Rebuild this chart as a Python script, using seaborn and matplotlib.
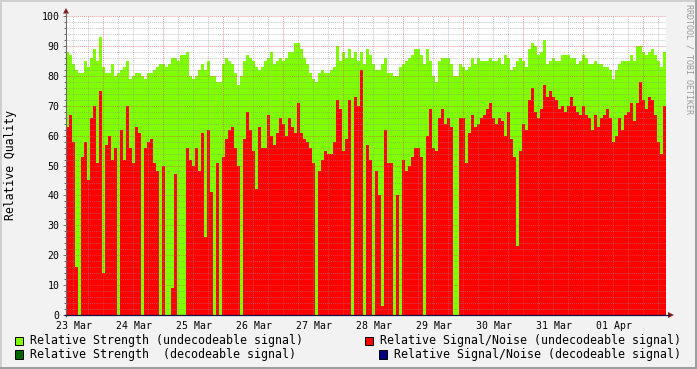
import numpy as np
import pandas as pd
import matplotlib
matplotlib.use("Agg")
import matplotlib.pyplot as plt
import seaborn as sns
from matplotlib.patches import Rectangle, Polygon

# ---------------- data ----------------
day_labels = ["23 Mar", "24 Mar", "25 Mar", "26 Mar", "27 Mar",
              "28 Mar", "29 Mar", "30 Mar", "31 Mar", "01 Apr"]
y_ticks = [0, 10, 20, 30, 40, 50, 60, 70, 80, 90, 100]

# Relative Strength (undecodeable signal), one value per 3-pixel column
strength_undecodeable = [
    88, 87, 84, 82, 81, 81, 85, 83, 86, 89, 85, 93, 83, 81, 81, 84, 80, 81, 82, 83,
    85, 79, 80, 81, 81, 80, 79, 81, 81, 82, 83, 84, 84, 83, 84,
    86, 86, 85, 87, 87, 88, 80, 79, 80, 82, 84, 82, 85, 80, 80, 78, 78, 84, 86, 85,
    84, 81, 77, 80, 85, 87, 86, 85, 83, 82, 83, 85, 86,
    88, 84, 85, 86, 85, 86, 88, 88, 91, 91, 89, 86, 84, 81, 79, 78, 81, 82, 81, 81,
    82, 83, 90, 85, 88, 86, 89, 86, 88, 85, 88, 84, 89,
    87, 84, 82, 82, 84, 86, 81, 81, 80, 80, 83, 84, 85, 86, 87, 89, 89, 87, 84, 89,
    85, 80, 78, 85, 86, 86, 86, 84, 80, 80, 84, 83, 82,
    83, 86, 84, 86, 85, 85, 85, 86, 85, 85, 86, 84, 87, 86, 82, 83, 85, 86, 85, 83,
    89, 91, 90, 87, 88, 92, 84, 85, 86, 85, 85, 87, 87, 87,
    86, 86, 84, 85, 87, 86, 84, 84, 85, 84, 84, 83, 83, 82, 79, 82, 84, 85, 85, 85,
    87, 85, 90, 90, 88, 87, 88, 89, 87, 85, 83, 88,
]
# Relative Signal/Noise (undecodeable signal)
snr_undecodeable = [
    63, 67, 58, 16, 0, 53, 58, 45, 66, 70, 51, 75, 14, 57, 60, 52, 56, 0, 62, 52,
    70, 56, 51, 63, 61, 0, 56, 58, 59, 51, 48, 0, 50, 0, 0,
    9, 47, 0, 0, 0, 56, 52, 50, 56, 48, 61, 26, 62, 41, 0, 51, 0, 53, 59, 62,
    63, 56, 50, 0, 59, 68, 62, 55, 42, 63, 56, 56, 67,
    60, 57, 61, 66, 64, 60, 66, 63, 61, 71, 61, 59, 58, 56, 51, 0, 48, 52, 55, 54,
    54, 58, 72, 69, 55, 59, 72, 0, 73, 70, 82, 0, 57,
    52, 0, 48, 40, 3, 62, 51, 51, 0, 40, 0, 52, 48, 50, 53, 56, 56, 53, 0, 60,
    69, 56, 55, 66, 69, 64, 66, 63, 0, 0, 66, 66, 51,
    61, 67, 63, 64, 66, 67, 69, 71, 66, 64, 66, 65, 60, 68, 59, 53, 23, 55, 64, 62,
    72, 76, 68, 66, 69, 77, 73, 75, 73, 72, 69, 70, 68, 70,
    73, 70, 68, 67, 70, 67, 66, 62, 67, 63, 66, 67, 69, 66, 58, 60, 66, 62, 67, 68,
    71, 65, 71, 78, 72, 69, 73, 72, 67, 58, 54, 70,
]

legend_labels = ["Relative Strength (undecodeable signal)",
                 "Relative Signal/Noise (undecodeable signal)",
                 "Relative Strength  (decodeable signal)",
                 "Relative Signal/Noise (decodeable signal)"]
legend_colors = ["#7FFF00", "#FF0000", "#006400", "#000080"]

# ---------------- styling ----------------
W, H = 697, 369
sns.set_theme(style="white")
plt.rcParams["font.family"] = ["DejaVu Sans Mono"]

BACK = (0.95, 0.95, 0.95)
GRID = (0.56, 0.56, 0.56)
MGRID = (0.87, 0.31, 0.31)
ARROW = (0.50, 0.12, 0.12)
YAXIS = (0.42, 0.42, 0.42)

fig = plt.figure(figsize=(W / 100, H / 100), dpi=100, facecolor=BACK)
L, T, R, B = 66, 16, 666, 315
ax = fig.add_axes([L / W, 1 - B / H, (R - L) / W, (B - T) / H])
ax.set_facecolor("white")

n = len(strength_undecodeable)
df = pd.DataFrame({"t": np.arange(n),
                   "strength": strength_undecodeable,
                   "snr": snr_undecodeable})

sns.histplot(data=df, x="t", weights="strength", binwidth=1, binrange=(0, n),
             element="step", fill=True, color="#7FFF00", alpha=1, linewidth=0,
             ax=ax, zorder=1)
sns.histplot(data=df, x="t", weights="snr", binwidth=1, binrange=(0, n),
             element="step", fill=True, color="#FF0000", alpha=1, linewidth=0,
             ax=ax, zorder=2)

ax.set_xlim(0, n)
ax.set_ylim(0, 100)
ax.set_xlabel("")
ax.set_ylabel("")
for s in ax.spines.values():
    s.set_visible(False)

# grid (drawn above the data like rrdtool)
for v in range(2, 101, 2):
    if v % 10:
        ax.axhline(v, color=GRID, alpha=0.5, lw=0.7, ls=(0, (1, 1)), zorder=3)
    else:
        ax.axhline(v, color=MGRID, alpha=0.6, lw=0.7, ls=(0, (1, 1)), zorder=4)
k = 0
while 2.45 + 5 * k < n:
    xv = 2.45 + 5 * k
    if (k - 2) % 4 == 0:
        ax.axvline(xv, color=MGRID, alpha=0.6, lw=0.7, ls=(0, (1, 1)), zorder=4)
    else:
        ax.axvline(xv, color=GRID, alpha=0.5, lw=0.7, ls=(0, (1, 1)), zorder=3)
    k += 1

# ticks
ax.set_xticks([2.8 + 20 * i for i in range(len(day_labels))])
ax.set_xticklabels(day_labels)
ax.set_yticks(y_ticks)
ax.set_yticklabels([str(v) for v in y_ticks])
ax.set_yticks(list(range(0, 101, 2)), minor=True)
ax.tick_params(axis="x", length=0, pad=4, labelsize=7.1, colors="black")
ax.tick_params(axis="y", which="major", length=2.2, width=0.7, pad=2.6,
               labelsize=7.1, color=YAXIS, labelcolor="black", left=True)
ax.tick_params(axis="y", which="minor", length=1.2, width=0.7, color=YAXIS, left=True)

# ---------------- overlay in pixel coordinates ----------------
ox = fig.add_axes([0, 0, 1, 1], zorder=10)
ox.set_xlim(0, W)
ox.set_ylim(H, 0)
ox.axis("off")
ox.patch.set_alpha(0)

# frame
ox.add_patch(Rectangle((0, 0), W, 2, color=(0.81, 0.81, 0.81), lw=0))
ox.add_patch(Rectangle((0, 0), 2, H, color=(0.81, 0.81, 0.81), lw=0))
ox.add_patch(Rectangle((W - 2, 0), 2, H, color=(0.62, 0.62, 0.62), lw=0))
ox.add_patch(Rectangle((0, H - 2), W, 2, color=(0.62, 0.62, 0.62), lw=0))

# axes lines and arrows
ox.plot([66, 66], [317, 12], color=YAXIS, lw=0.8, solid_capstyle="butt")
ox.plot([64, 669], [315, 315], color="#10104A", lw=0.9, solid_capstyle="butt")
ox.add_patch(Polygon([(63, 13.5), (69, 13.5), (66, 8)], closed=True, color=ARROW, lw=0))
ox.add_patch(Polygon([(668, 312), (668, 318), (674, 315)], closed=True, color=ARROW, lw=0))

# y axis title
ox.text(11, 165, "Relative Quality", rotation=90, ha="center", va="center",
        fontsize=8.3, color="black")

# watermark
ox.text(688.5, 59, "RRDTOOL / TOBI OETIKER", rotation=-90, ha="center", va="center",
        fontsize=6, color=(0.6, 0.6, 0.6))

# legend
rows = [340.8, 354.3]
sq = 8.5
for lab, col, yc in [(legend_labels[0], legend_colors[0], rows[0]),
                     (legend_labels[2], legend_colors[2], rows[1])]:
    ox.add_patch(Rectangle((15, yc - sq / 2), 7.8, sq, facecolor=col,
                           edgecolor="black", lw=0.7))
    ox.text(30.5, yc, lab, ha="left", va="center", fontsize=8.35, color="black")
for lab, col, yc in [(legend_labels[1], legend_colors[1], rows[0]),
                     (legend_labels[3], legend_colors[3], rows[1])]:
    ox.text(680.5, yc, lab, ha="right", va="center", fontsize=8.35, color="black")
    xs = 680.5 - len(lab) * 6.98
    ox.add_patch(Rectangle((xs - 15, yc - sq / 2), 7.8, sq, facecolor=col,
                           edgecolor="black", lw=0.7))

fig.savefig("out.png", dpi=100, facecolor=BACK)
